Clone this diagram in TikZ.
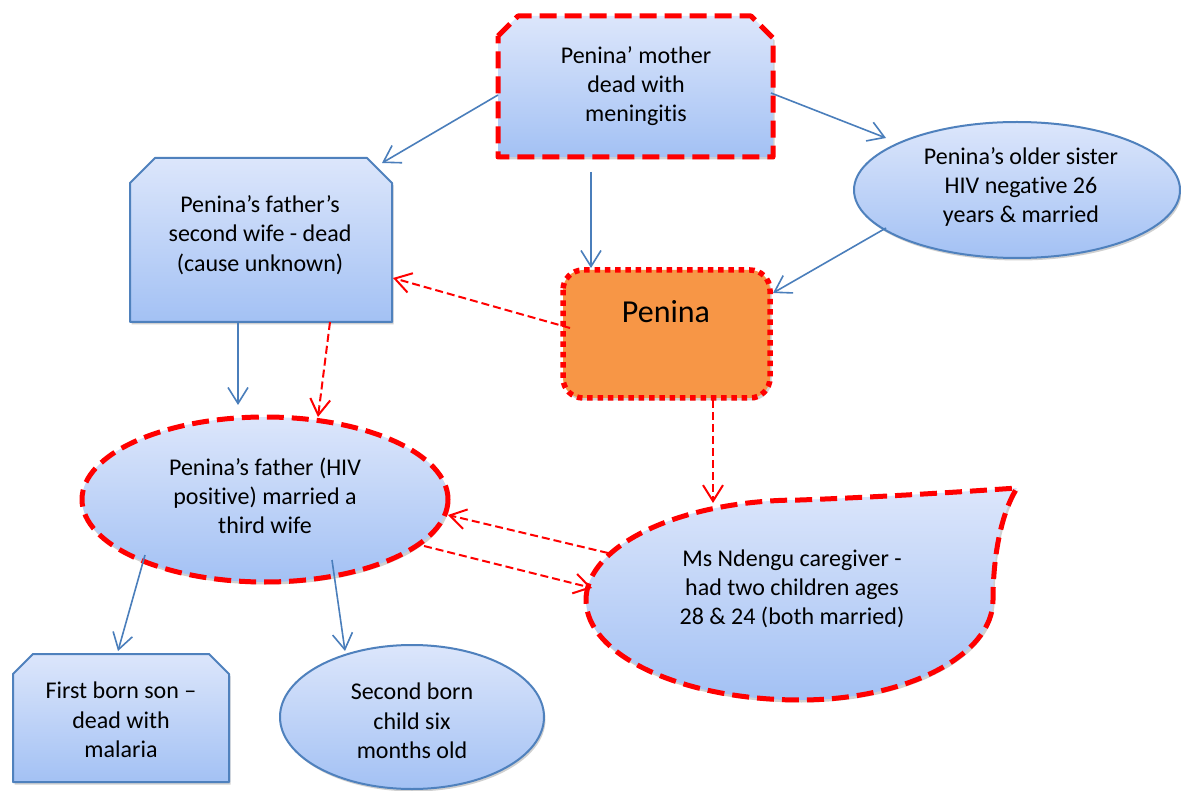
\documentclass[tikz,border=0pt]{standalone}
\usepackage{fontspec}
\setmainfont{Carlito}[Ligatures={NoCommon}]
\usetikzlibrary{arrows.meta,shadows}
\definecolor{bluetop}{HTML}{DCE6FB}
\definecolor{bluebot}{HTML}{A3C1F4}
\definecolor{blueline}{HTML}{4F81BD}
\definecolor{arrowblue}{HTML}{4A7EBB}
\definecolor{pored}{HTML}{FF0000}
\definecolor{penorange}{HTML}{F79646}
\tikzset{
  shapefill/.style={top color=bluetop, bottom color=bluebot,
    drop shadow={shadow xshift=1.5pt, shadow yshift=-2.5pt, opacity=0.3, fill=black!60}},
  blueborder/.style={shapefill, draw=blueline, line width=2pt, line join=round},
  reddash/.style={shapefill, draw=pored, line width=5pt, dash pattern=on 17pt off 8pt, line join=round},
  txt/.style={font=\fontsize{24}{29.3}\selectfont, align=center, inner sep=0pt},
  bluearrow/.style={draw=arrowblue, line width=1.6pt,
    -{Straight Barb[length=16pt,width=20pt,line width=1.6pt]}},
  redarrow/.style={draw=pored, line width=2pt, dash pattern=on 8pt off 4pt,
    -{Straight Barb[length=16pt,width=20pt,line width=2pt]}},
}
\begin{document}
\begin{tikzpicture}[x=1pt,y=-1pt]
\useasboundingbox (0,0) rectangle (1181,791);
\fill[white] (0,0) rectangle (1181,791);

% shapes
\path[reddash] (498,36) -- (518,16) -- (751,16) -- (773,38) -- (773,157) -- (498,157) -- cycle;
\path[blueborder] (130,183) -- (155,158) -- (367,158) -- (392,183) -- (392,322) -- (130,322) -- cycle;
\path[blueborder] (1017,190) ellipse[x radius=163, y radius=68];
\path[draw=pored, fill=penorange, line width=5.5pt, dash pattern=on 5.5pt off 4.8pt,
      rounded corners=20pt, drop shadow={shadow xshift=1.5pt, shadow yshift=-2.5pt, opacity=0.3, fill=black!60}]
      (563,270) rectangle (770,398);
\path[reddash] (265,499.5) ellipse[x radius=183, y radius=82.5];
\path[reddash] (586,600) .. controls (586,544.8) and (681.8,500) .. (800,500)
   .. controls (880,497) and (960,492) .. (1017,488)
   .. controls (1000,515) and (993,560) .. (993,600)
   .. controls (993,655.2) and (906.6,700) .. (800,700)
   .. controls (681.8,700) and (586,655.2) .. (586,600) -- cycle;
\path[blueborder] (13,674) -- (33,654) -- (209,654) -- (229,674) -- (229,782) -- (13,782) -- cycle;
\path[blueborder] (412,717) ellipse[x radius=132, y radius=72];

% texts
\node[txt] (mother) at (636,86) {Penina’ mother\\dead with\\meningitis};
\node[txt] (wife2) at (260,235) {Penina’s father’s\\second wife - dead\\(cause unknown)};
\node[txt] (sister) at (1021,187) {Penina’s older sister\\HIV negative 26\\years \& married};
\node[inner sep=0pt, font=\fontsize{32}{38}\selectfont] (penina) at (666,312) {Penina};
\node[txt] (father) at (265,496) {Penina’s father (HIV\\positive) married a\\third wife};
\node[txt] (ndengu) at (792,589) {Ms Ndengu caregiver -\\had two children ages\\28 \& 24 (both married)};
\node[txt] (son1) at (121,720) {First born son –\\dead with\\malaria};
\node[txt] (child2) at (412,721) {Second born\\child six\\months old};

% connector end points
\coordinate (mL) at (498,95);   \coordinate (w2TR) at (382,163);
\coordinate (mR) at (771,93);   \coordinate (sL) at (886,138);
\coordinate (mB) at (591,172);  \coordinate (pT) at (591,268);
\coordinate (sB) at (886,228);  \coordinate (pR) at (773,293);
\coordinate (w2B) at (238,322); \coordinate (fT) at (238,405);
\coordinate (fBL) at (145,555); \coordinate (s1T) at (118,651);
\coordinate (fBR) at (332,560); \coordinate (c2T) at (345,651);
\coordinate (pL) at (570,328);  \coordinate (w2R) at (393,278);
\coordinate (w2B2) at (330,322);\coordinate (fT2) at (318,417);
\coordinate (pB) at (713,400);  \coordinate (nT) at (713,503);
\coordinate (nL1) at (608,553); \coordinate (fR) at (448,515);
\coordinate (fR2) at (424,546); \coordinate (nL2) at (592,588);

% blue connectors
\draw[bluearrow] (mL) -- (w2TR);
\draw[bluearrow] (mR) -- (sL);
\draw[bluearrow] (mB) -- (pT);
\draw[bluearrow] (sB) -- (pR);
\draw[bluearrow] (w2B) -- (fT);
\draw[bluearrow] (fBL) -- (s1T);
\draw[bluearrow] (fBR) -- (c2T);

% red dashed connectors
\draw[redarrow] (pL) -- (w2R);
\draw[redarrow] (w2B2) -- (fT2);
\draw[redarrow] (pB) -- (nT);
\draw[redarrow] (nL1) -- (fR);
\draw[redarrow] (fR2) -- (nL2);
\end{tikzpicture}
\end{document}
